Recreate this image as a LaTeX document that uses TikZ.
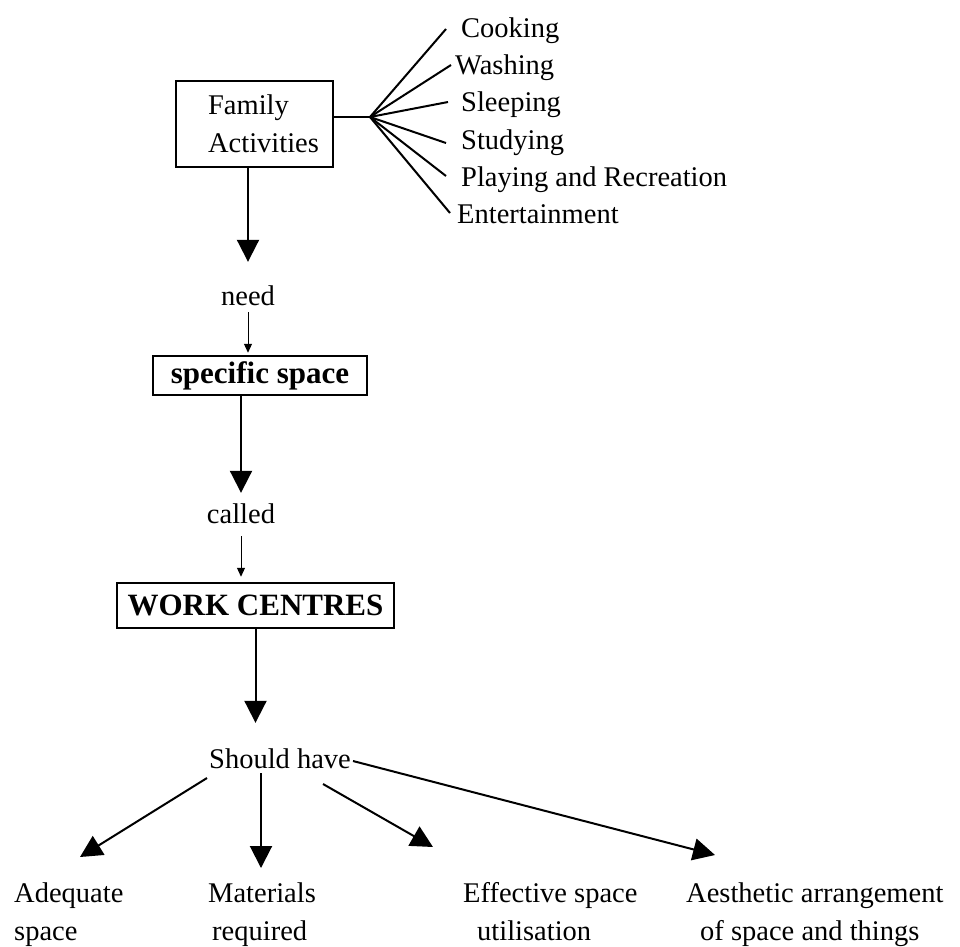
\documentclass[tikz,border=0pt]{standalone}
\usepackage{fontspec}
\setmainfont{Liberation Serif}
\usetikzlibrary{arrows.meta,calc}
\begin{document}
\begin{tikzpicture}[x=1pt,y=-1pt,
  txt/.style={inner sep=0pt, font=\fontsize{28.5}{34}\selectfont, text height=20pt, text depth=7pt, anchor=base west},
  ctxt/.style={txt, anchor=base},
  famboxstyle/.style={draw, line width=2pt, inner sep=0pt, align=left, font=\fontsize{28.5}{34}\selectfont, minimum width=157pt, minimum height=86pt},
  boldbox/.style={draw, line width=2.5pt, inner sep=0pt, font=\fontsize{31}{36}\selectfont\bfseries},
  conn/.style={line width=2pt},
  bigarrow/.style={line width=2pt, -{Triangle[length=22pt,width=22pt]}},
  smallarrow/.style={line width=1pt, -{Triangle[length=9pt,width=8pt]}}
]
\useasboundingbox (0,0) rectangle (960,946);

% Family activities box and fan
\node[famboxstyle] (fam) at (254.5,124) {\hspace*{18pt}Family\\[4pt]\hspace*{18pt}Activities};
\coordinate (fan) at (370,117);
\node[txt] (cook)  at (461,37)  {Cooking};
\node[txt] (wash)  at (455,74)  {Washing};
\node[txt] (sleep) at (461,111) {Sleeping};
\node[txt] (study) at (461,149) {Studying};
\node[txt] (play)  at (461,186) {Playing and Recreation};
\node[txt] (ent)   at (457,223) {Entertainment};
\draw[conn] (fan -| fam.east) -- (fan);
\draw[conn] (fan) -- ($(cook.base west)+(-15,-8)$);
\draw[conn] (fan) -- ($(wash.base west)+(-4,-9)$);
\draw[conn] (fan) -- ($(sleep.base west)+(-13,-9)$);
\draw[conn] (fan) -- ($(study.base west)+(-15,-6)$);
\draw[conn] (fan) -- ($(play.base west)+(-15,-10)$);
\draw[conn] (fan) -- ($(ent.base west)+(-7,-10)$);

% chain
\node[ctxt] (need) at (248,305) {need};
\draw[bigarrow, shorten >=23pt] (need |- fam.south) -- (need.north);
\node[boldbox, minimum width=214pt, minimum height=39pt] (spec) at (260,375.5) {specific space};
\draw[smallarrow, shorten >=2pt] (need.south) -- (need.south |- spec.north);

\node[ctxt] (called) at (241,523) {called};
\draw[bigarrow, shorten >=10pt] (called |- spec.south) -- (called.north);
\node[boldbox, minimum width=277pt, minimum height=45pt] (work) at (255.5,605.5) {WORK CENTRES};
\draw[smallarrow, shorten <=6pt, shorten >=5pt] (called.south) -- (called.south |- work.north);

\node[ctxt] (should) at (280,768) {Should have};
\draw[bigarrow, shorten >=25pt] (work.south) -- (work.south |- should.north);

% bottom labels
\node[txt] (adeq1) at (14,902) {Adequate};
\node[txt] (adeq2) at (14,940) {space};
\node[txt] (mat1) at (208,902) {Materials};
\node[txt] (mat2) at (212,940) {required};
\node[txt] (eff1) at (463,902) {Effective space};
\node[txt] (eff2) at (477,940) {utilisation};
\node[txt] (aes1) at (686,902) {Aesthetic arrangement};
\node[txt] (aes2) at (700,940) {of space and things};

\draw[bigarrow] ($(should.base)+(-73,10)$) -- ($(adeq1.base west)+(66,-45)$);
\draw[bigarrow] ($(should.base)+(-19,5)$) -- ($(mat1.base west)+(53,-34)$);
\draw[bigarrow] ($(should.base)+(43,16)$) -- ($(eff1.base west)+(-30,-55)$);
\draw[bigarrow] ($(should.base)+(73,-7)$) -- ($(aes1.base west)+(29,-47)$);
\end{tikzpicture}
\end{document}
